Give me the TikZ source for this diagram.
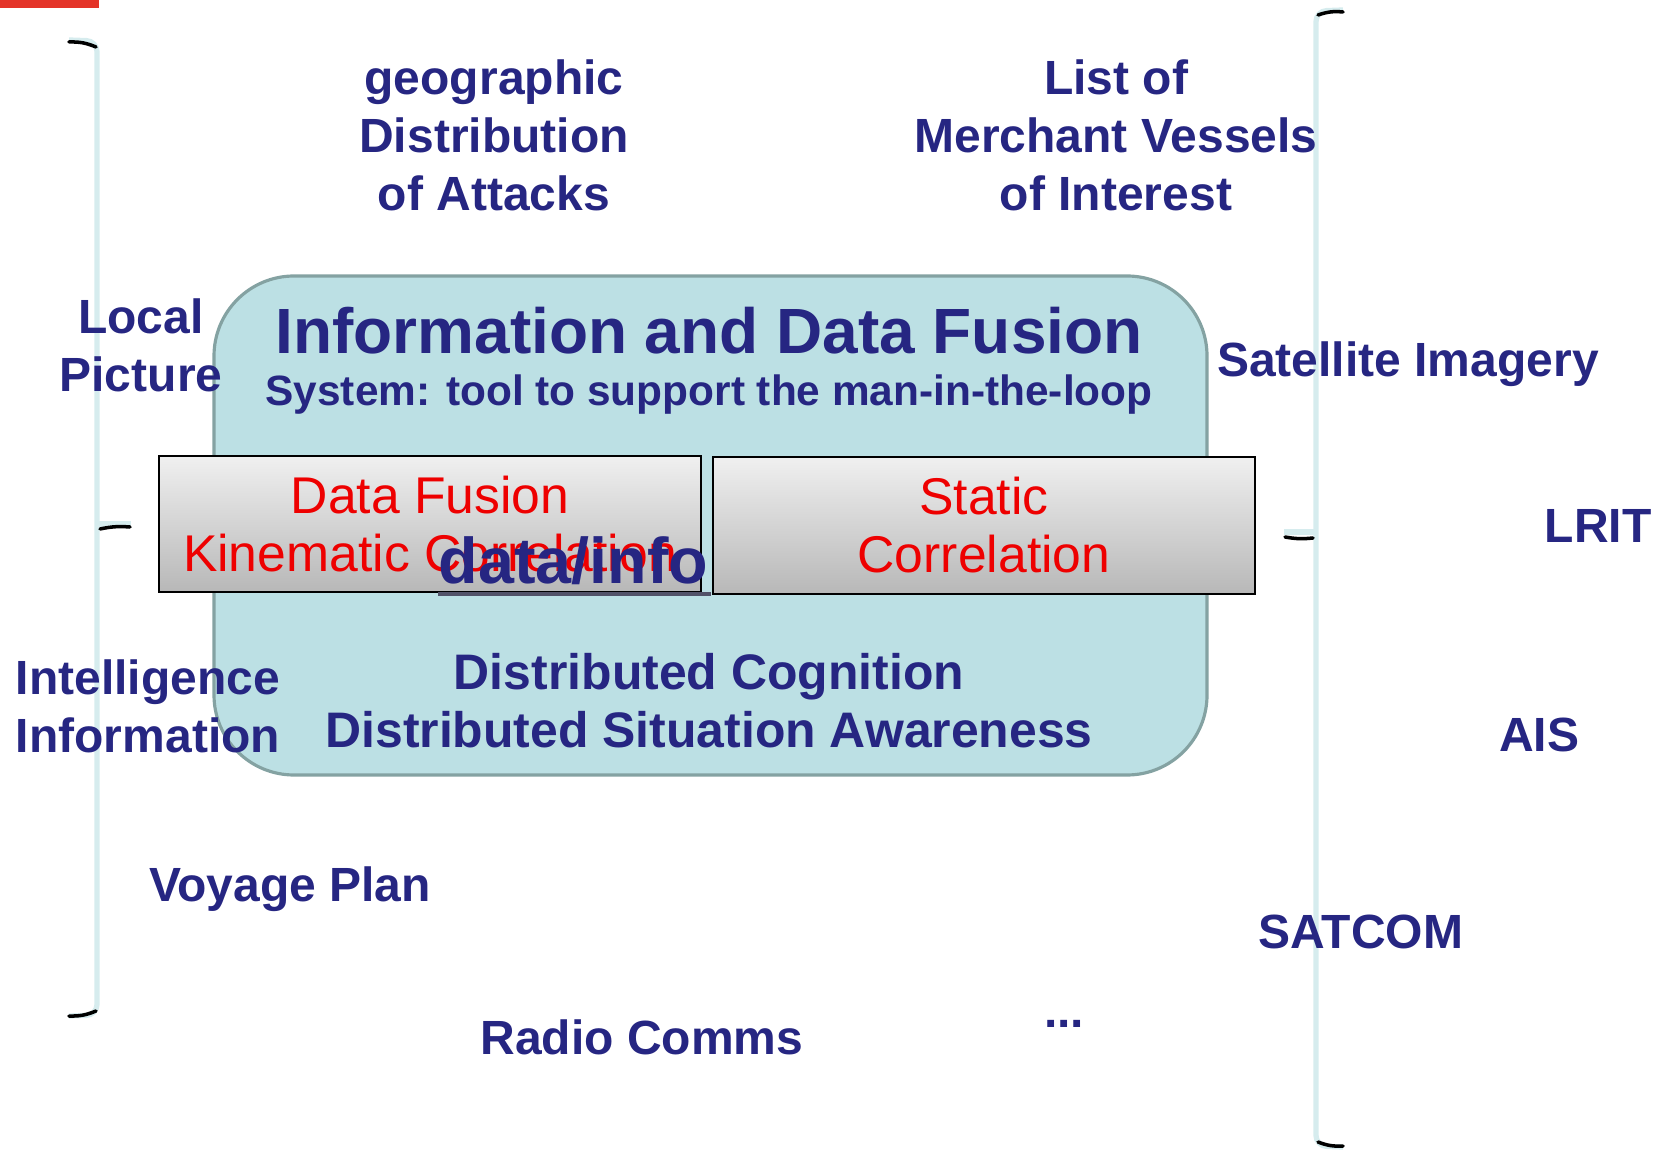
\documentclass[tikz,border=0pt]{standalone}
\usepackage{fontspec}
\setmainfont{Liberation Sans}
\usepackage{tikz}
\usetikzlibrary{positioning}

\definecolor{navy}{RGB}{38,38,130}
\definecolor{fusionred}{RGB}{238,0,0}
\definecolor{panel}{RGB}{188,224,228}
\definecolor{panelrim}{RGB}{132,162,162}
\definecolor{bracelight}{RGB}{214,236,238}
\definecolor{barred}{RGB}{228,52,40}
\definecolor{infoline}{RGB}{82,82,104}

\tikzset{
  outer/.style={text=navy, font=\fontsize{13.66}{16.5}\selectfont\bfseries, align=center, inner sep=0pt},
  inner/.style={text=navy, font=\fontsize{14.2}{16.5}\selectfont\bfseries, align=center, inner sep=0pt},
  corr/.style={text=fusionred, font=\fontsize{14.7}{16.5}\selectfont, align=center},
  corrbox/.style={draw=black, line width=0.8pt, top color=black!6, bottom color=black!28, inner sep=0pt},
  panelbox/.style={draw=panelrim, fill=panel, line width=0.9pt, rounded corners=0.8cm},
  brace/.style={draw=bracelight, line width=1.5pt},
  hook/.style={draw=black, line width=1pt, line cap=round}
}

\begin{document}
\begin{tikzpicture}
\useasboundingbox (0,0) rectangle (16.64,-11.5);
\fill[barred] (0,0) rectangle (0.99,-0.08);

\coordinate (lt) at (0.97,-0.41);
\coordinate (lm) at (0.97,-5.24);
\coordinate (lb) at (0.97,-10.15);
\draw[brace, rounded corners=3pt] (0.69,-0.40) -- (lt) -- (lb) -- (0.69,-10.16);
\draw[brace] (lm) -- (1.31,-5.24);
\draw[hook] (0.69,-0.42) to[bend left=12] (0.96,-0.47);
\draw[hook] (1.00,-5.29) to[bend left=8] (1.30,-5.27);
\draw[hook] (0.96,-10.11) to[bend left=12] (0.69,-10.16);

\coordinate (rt) at (13.16,-0.11);
\coordinate (rm) at (13.16,-5.32);
\coordinate (rb) at (13.16,-11.46);
\draw[brace, rounded corners=3pt] (13.43,-0.10) -- (rt) -- (rb) -- (13.43,-11.47);
\draw[brace] (rm) -- (12.84,-5.32);
\draw[hook] (13.18,-0.15) to[bend left=12] (13.43,-0.12);
\draw[hook] (12.85,-5.37) to[bend right=8] (13.13,-5.38);
\draw[hook] (13.18,-11.42) to[bend right=12] (13.43,-11.46);

\node[panelbox, minimum width=9.93cm, minimum height=4.99cm] (idf) at (7.105,-5.255) {};
\node[inner, font=\fontsize{18.2}{20}\selectfont\bfseries] (title) at (7.09,-3.31) {Information and Data Fusion};
\node[inner, font=\fontsize{12.06}{14}\selectfont\bfseries] (sub) at (7.09,-3.95) {System: tool to support the man-in-the-loop};

\node[corrbox, minimum width=5.42cm, minimum height=1.36cm] (kinbox) at (4.30,-5.24) {};
\node[corrbox, minimum width=5.42cm, minimum height=1.37cm] (statbox) at (9.84,-5.255) {};
\node[corr] (kin) at (kinbox.center) {Data Fusion\\Kinematic Correlation};
\node[corr] (stat) at (statbox.center) {Static\\Correlation};
\node[text=navy, font=\fontsize{18.4}{20}\selectfont\bfseries, anchor=base west, inner sep=0pt] (info) at (4.38,-5.84) {data/info};
\draw[infoline, line width=1.3pt] (info.south west |- 0,-5.94) -- (7.11,-5.94);

\node[inner] (cog) at (7.09,-7.01) {Distributed Cognition\\Distributed Situation Awareness};

\node[outer] (geo) at (4.94,-1.35) {geographic\\Distribution\\of Attacks};
\node[outer] (list) at (11.16,-1.35) {List of\\Merchant Vessels\\of Interest};
\node[outer] (local) at (1.41,-3.45) {Local\\Picture};
\node[outer] (sat) at (14.08,-3.64) {Satellite Imagery};
\node[outer] (lrit) at (15.98,-5.26) {LRIT};
\node[outer] (intel) at (1.48,-7.06) {Intelligence\\Information};
\node[outer] (ais) at (15.39,-7.35) {AIS};
\node[outer] (voyage) at (2.90,-8.89) {Voyage Plan};
\node[outer] (satcom) at (13.61,-9.32) {SATCOM};
\node[outer] (radio) at (6.42,-10.37) {Radio Comms};
\node[outer, anchor=base] (more) at (10.64,-10.27) {...};
\end{tikzpicture}
\end{document}
